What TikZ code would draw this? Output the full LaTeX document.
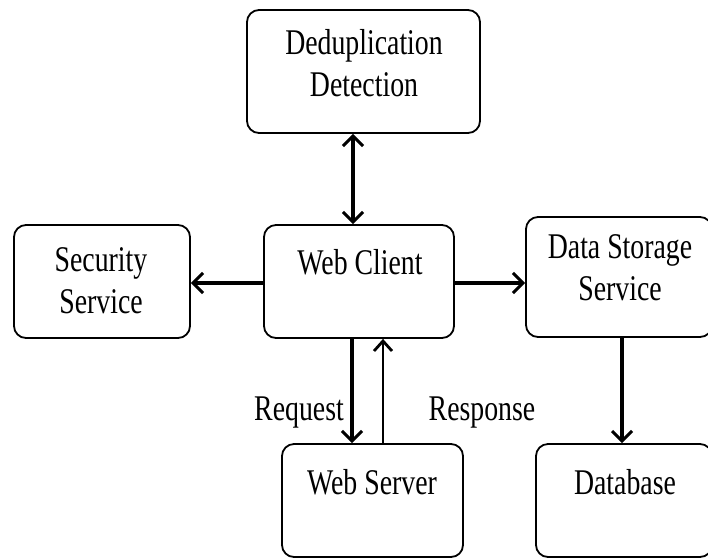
\documentclass[tikz,border=0pt]{standalone}
\usepackage{graphicx}
\usepackage{fontspec}
\setmainfont{Liberation Serif}
\usetikzlibrary{arrows.meta}
\newcommand\vtxt[1]{\scalebox{1}[1.3]{\fontsize{27.8}{32.3}\selectfont\begin{tabular}{@{}c@{}}#1\end{tabular}}}
\tikzset{
  box/.style={draw=black, line width=1.8pt, rounded corners=12pt, minimum width=#1, inner sep=0pt},
  lbl/.style={inner sep=0pt, text=black},
  thk/.style={line width=3.8pt, -{Straight Barb[length=10pt,width=20pt,line width=3pt]}},
  thn/.style={line width=2pt, -{Straight Barb[length=10pt,width=18pt,line width=2.8pt]}},
}
\begin{document}
\begin{tikzpicture}[x=1pt,y=-1pt]
\useasboundingbox (0,0) rectangle (708,558);
\clip (0,0) rectangle (708,558);
\fill[white] (0,0) rectangle (708,558);
% boxes
\node[box=233pt, minimum height=123pt] (dd) at (363.5,71.5) {};
\node[box=176pt, minimum height=113pt] (sec) at (102,281.5) {};
\node[box=190pt, minimum height=113pt] (wc) at (359,281.5) {};
\node[box=186pt, minimum height=120pt] (ds) at (619,277) {};
\node[box=181pt, minimum height=113pt] (ws) at (372.5,500.5) {};
\node[box=176pt, minimum height=113pt] (db) at (624,500.5) {};
% texts
\node[lbl] (tdd) at (364,67) {\vtxt{Deduplication\\Detection}};
\node[lbl] (tsec) at (101,284) {\vtxt{Security\\Service}};
\node[lbl] (twc) at (360,266) {\vtxt{Web Client}};
\node[lbl] (tds) at (620,271) {\vtxt{Data Storage\\Service}};
\node[lbl] (tws) at (372,486) {\vtxt{Web Server}};
\node[lbl] (tdb) at (625,486) {\vtxt{Database}};
\node[lbl] (treq) at (299,412) {\vtxt{Request}};
\node[lbl] (tres) at (482,412) {\vtxt{Response}};
% connectors
\draw[thk, {Straight Barb[length=10pt,width=20pt,line width=3pt]}-{Straight Barb[length=10pt,width=20pt,line width=3pt]}]
  ([xshift=-6pt]wc.north |- dd.south) -- ([xshift=-6pt]wc.north);
\draw[thk] ([yshift=-1.5pt]wc.west) -- ([yshift=-1.5pt]wc.west -| sec.east);
\draw[thk] ([yshift=-1.5pt]wc.east) -- ([yshift=-1.5pt]wc.east -| ds.west);
\draw[thk] ([xshift=-7pt]wc.south) -- ([xshift=-7pt]wc.south |- ws.north);
\draw[thn] ([xshift=24pt]wc.south |- ws.north) -- ([xshift=24pt]wc.south);
\draw[thk] ([xshift=3pt]ds.south) -- ([xshift=3pt]ds.south |- db.north);
\end{tikzpicture}
\end{document}
